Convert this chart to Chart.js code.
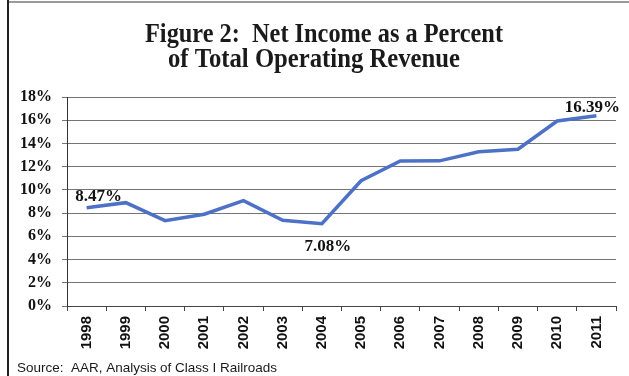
<!DOCTYPE html>
<html>
<head>
<meta charset="utf-8">
<script src="https://cdn.jsdelivr.net/npm/chart.js@4"></script>
<style>
  html, body { margin: 0; padding: 0; background: #fff; }
  canvas { display: block; }
</style>
</head>
<body>
<canvas id="chart" width="629" height="376"></canvas>
<script>
const years = ["1998", "1999", "2000", "2001", "2002", "2003", "2004",
  "2005", "2006", "2007", "2008", "2009", "2010", "2011"];
const netIncomePct = [8.47, 8.9, 7.35, 7.9, 9.07, 7.38, 7.08,
  10.79, 12.49, 12.5, 13.29, 13.5, 15.93, 16.39];
const yTicks = [0, 2, 4, 6, 8, 10, 12, 14, 16, 18];
const labeledYears = ["1998", "2004", "2011"];
const titleLines = ["Figure 2:  Net Income as a Percent", "of Total Operating Revenue"];
const sourceText = "Source:  AAR, Analysis of Class I Railroads";

// draw text squeezed to a given width (the original fonts are condensed)
function fitText(ctx, text, cx, baseline, width, align) {
  const w = ctx.measureText(text).width;
  const sx = width / w;
  ctx.save();
  ctx.translate(cx, baseline);
  ctx.scale(sx, 1);
  ctx.textAlign = align || "center";
  ctx.textBaseline = "alphabetic";
  ctx.fillText(text, 0, 0);
  ctx.restore();
}

const framePlugin = {
  id: "frame",
  beforeDraw(chart) {
    const ctx = chart.ctx;
    ctx.save();
    ctx.fillStyle = "#fff";
    ctx.fillRect(0, 0, chart.width, chart.height);
    ctx.fillStyle = "#9a9a9a";
    ctx.fillRect(8, 1, chart.width - 8, 2);
    ctx.fillStyle = "#222";
    ctx.fillRect(7, 0, 2, chart.height);
    ctx.restore();
  },
  afterDraw(chart) {
    const ctx = chart.ctx;
    ctx.save();
    ctx.fillStyle = "#1a1a1a";
    ctx.font = "bold 27px 'Liberation Serif'";
    fitText(ctx, titleLines[0], 324, 42, 358);
    fitText(ctx, titleLines[1], 314, 67, 292);
    ctx.font = "13px 'Liberation Sans'";
    ctx.fillStyle = "#1a1a1a";
    fitText(ctx, sourceText, 17, 372, 260, "left");
    ctx.restore();
  }
};

const pointLabels = {
  id: "pointLabels",
  afterDatasetsDraw(chart) {
    const ctx = chart.ctx;
    const meta = chart.getDatasetMeta(0);
    const offsets = { "1998": [12, -11], "2004": [6, 23], "2011": [-4, -8] };
    ctx.save();
    ctx.font = "bold 17px 'Liberation Serif'";
    ctx.fillStyle = "#111";
    ctx.textAlign = "center";
    ctx.textBaseline = "middle";
    labeledYears.forEach(y => {
      const i = years.indexOf(y);
      const pt = meta.data[i];
      const o = offsets[y];
      ctx.fillText(netIncomePct[i].toFixed(2) + "%", pt.x + o[0], pt.y + o[1]);
    });
    ctx.restore();
  }
};

new Chart(document.getElementById("chart"), {
  type: "line",
  data: {
    labels: years,
    datasets: [{
      data: netIncomePct,
      borderColor: "#4d71c6",
      borderWidth: 3.5,
      pointRadius: 0,
      tension: 0,
      fill: false
    }]
  },
  options: {
    responsive: false,
    animation: false,
    layout: { padding: { top: 97, right: 13, left: 0, bottom: 0 } },
    plugins: {
      legend: { display: false },
      tooltip: { enabled: false },
      title: { display: false }
    },
    scales: {
      x: {
        offset: true,
        afterFit(scale) { scale.height = 70; },
        grid: {
          display: true,
          drawOnChartArea: false,
          offset: true,
          tickLength: 5,
          color: "#444"
        },
        border: { display: true, color: "#444" },
        ticks: {
          minRotation: 90,
          maxRotation: 90,
          padding: 5,
          color: "#111",
          font: { family: "'Liberation Sans'", size: 15, weight: "bold" }
        }
      },
      y: {
        min: 0,
        max: 18,
        afterFit(scale) { scale.width = 67; },
        afterBuildTicks(scale) { scale.ticks = yTicks.map(v => ({ value: v })); },
        grid: { color: "#747474", tickLength: 5 },
        border: { display: true, color: "#333" },
        ticks: {
          padding: 10,
          color: "#111",
          font: { family: "'Liberation Serif'", size: 16, weight: "bold" },
          callback: v => v + "%"
        }
      }
    }
  },
  plugins: [framePlugin, pointLabels]
});
</script>
</body>
</html>
